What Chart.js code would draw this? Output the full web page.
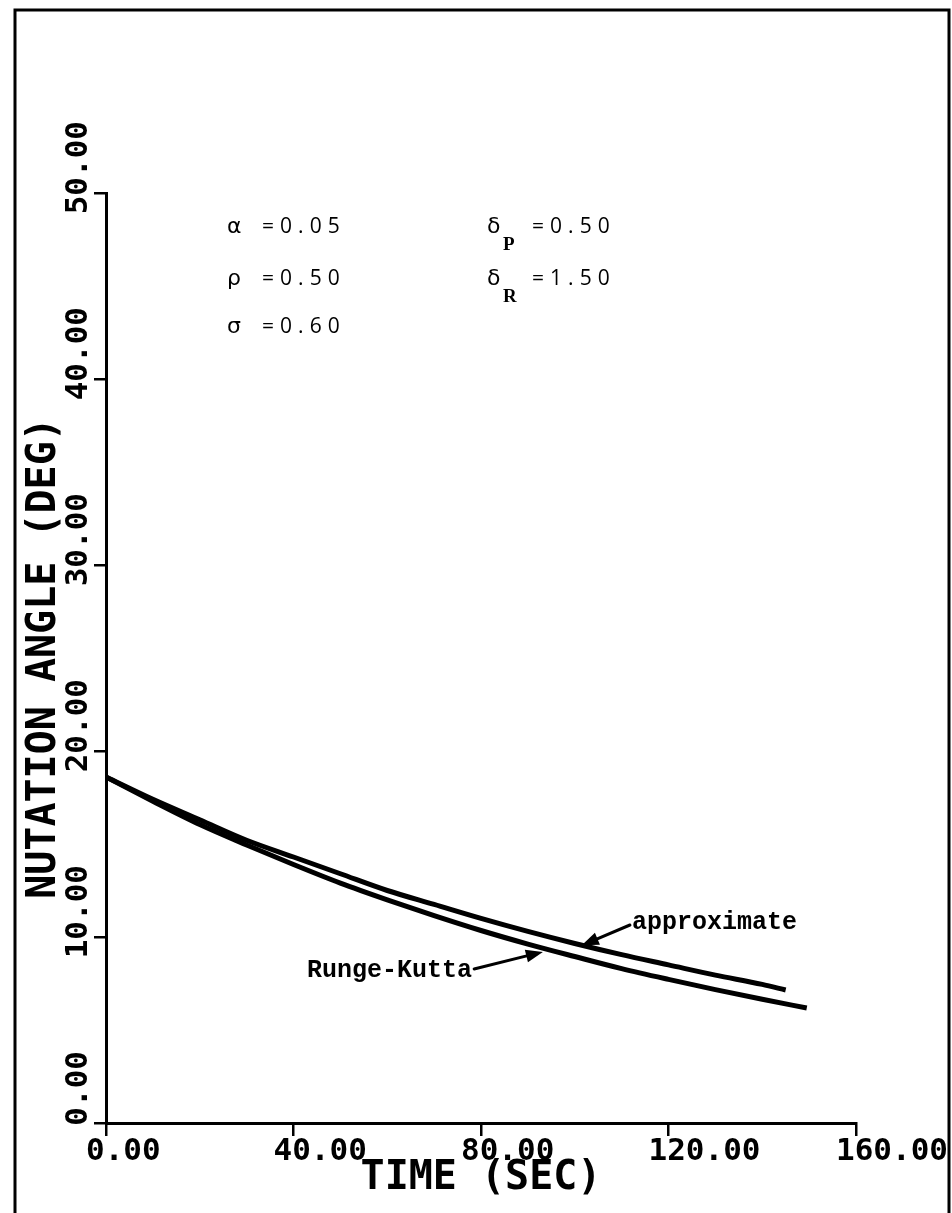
<!DOCTYPE html>
<html>
<head>
<meta charset="utf-8">
<script src="https://cdn.jsdelivr.net/npm/chart.js@4.4.1/dist/chart.umd.min.js"></script>
<style>
  html, body { margin: 0; padding: 0; background: #fff; }
  canvas { display: block; }
</style>
</head>
<body>
<canvas id="chart" width="952" height="1213"></canvas>
<script>
// Nutation angle (deg) versus time (s) for the two solutions
const timeApprox  = [0, 10, 20, 30, 40, 50, 60, 70, 80, 90, 100, 110, 120, 130, 140, 145];
const angleApprox = [18.6, 17.4, 16.3, 15.2, 14.3, 13.4, 12.5, 11.75, 11.0, 10.3, 9.65, 9.05, 8.5, 7.95, 7.45, 7.15];
const timeRK      = [0, 10, 20, 30, 40, 50, 60, 70, 80, 90, 100, 110, 120, 130, 140, 149.5];
const angleRK     = [18.6, 17.3, 16.05, 14.95, 13.9, 12.9, 12.0, 11.15, 10.35, 9.62, 8.95, 8.3, 7.72, 7.17, 6.65, 6.18];

const xTicks = [0, 40, 80, 120, 160];
const yTicks = [0, 10, 20, 30, 40, 50];

// Parameter block
const paramSymbols = ['α', 'ρ', 'σ'];
const paramValues  = ['0.05', '0.50', '0.60'];
const deltaSubs    = ['P', 'R'];
const deltaValues  = ['0.50', '1.50'];

// Placement of the annotations, in data units (time, angle)
const paramPos = { symT: 25.8, eqT: 33.3, rows: [47.85, 45.05, 42.47] };
const deltaPos = { symT: 81.3, subT: 84.7, eqT: 90.9, rows: [47.85, 45.05], subDrop: 0.92 };
const approxNote = { text: 'approximate', t: 112.2, v: 10.43, tipT: 101.5, tipV: 9.55 };
const rkNote     = { text: 'Runge-Kutta', t: 42.9, v: 7.85, tipT: 93.2, tipV: 9.2 };

const toPoints = (ts, vs) => ts.map((t, i) => ({ x: t, y: vs[i] }));

const MONO = '"DejaVu Sans Mono", "Liberation Mono", monospace';
const TYPE = '"Liberation Mono", "DejaVu Sans Mono", monospace';
const THIN = '"Open Sans", "DejaVu Sans", sans-serif';

function drawArrow(ctx, x0, y0, x1, y1) {
  const a = Math.atan2(y1 - y0, x1 - x0);
  const head = 17, half = 6.5;
  const c = Math.cos(a), s = Math.sin(a);
  ctx.lineWidth = 3;
  ctx.lineCap = 'round';
  ctx.beginPath();
  ctx.moveTo(x0, y0);
  ctx.lineTo(x1 - c * head * 0.8, y1 - s * head * 0.8);
  ctx.stroke();
  ctx.beginPath();
  ctx.moveTo(x1, y1);
  ctx.lineTo(x1 - c * head + s * half, y1 - s * head - c * half);
  ctx.lineTo(x1 - c * head - s * half, y1 - s * head + c * half);
  ctx.closePath();
  ctx.fill();
}

const notesPlugin = {
  id: 'notes',
  beforeDraw(chart) {
    const ctx = chart.ctx;
    ctx.save();
    ctx.fillStyle = '#fff';
    ctx.fillRect(0, 0, chart.width, chart.height);
    ctx.restore();
  },
  afterDatasetsDraw(chart) {
    const { ctx, scales: { x, y } } = chart;
    const px = t => x.getPixelForValue(t);
    const py = v => y.getPixelForValue(v);
    ctx.save();
    ctx.fillStyle = '#000';
    ctx.strokeStyle = '#000';
    ctx.textBaseline = 'alphabetic';
    ctx.textAlign = 'left';

    // Parameter values
    paramSymbols.forEach((sym, i) => {
      const by = py(paramPos.rows[i]);
      ctx.font = '22px "DejaVu Sans", sans-serif';
      ctx.letterSpacing = '0px';
      ctx.fillText(sym, px(paramPos.symT), by);
      ctx.font = '21px ' + THIN;
      ctx.letterSpacing = '6px';
      ctx.fillText('=' + paramValues[i], px(paramPos.eqT), by);
    });
    deltaSubs.forEach((sub, i) => {
      const by = py(deltaPos.rows[i]);
      ctx.font = '22px "DejaVu Sans", sans-serif';
      ctx.letterSpacing = '0px';
      ctx.fillText('δ', px(deltaPos.symT), by);
      ctx.font = 'bold 19px "Liberation Serif", serif';
      ctx.fillText(sub, px(deltaPos.subT), py(deltaPos.rows[i] - deltaPos.subDrop));
      ctx.font = '21px ' + THIN;
      ctx.letterSpacing = '6px';
      ctx.fillText('=' + deltaValues[i], px(deltaPos.eqT), by);
    });
    ctx.letterSpacing = '0px';

    // Curve labels with arrows
    ctx.font = 'bold 25px ' + TYPE;
    const ax = px(approxNote.t), ay = py(approxNote.v);
    ctx.fillText(approxNote.text, ax, ay);
    drawArrow(ctx, ax - 2, ay - 4, px(approxNote.tipT), py(approxNote.tipV));

    const rx = px(rkNote.t), ry = py(rkNote.v);
    ctx.fillText(rkNote.text, rx, ry);
    const rw = ctx.measureText(rkNote.text).width;
    drawArrow(ctx, rx + rw + 2, ry - 8, px(rkNote.tipT), py(rkNote.tipV));
    ctx.restore();
  },
  afterDraw(chart) {
    // Page frame
    const ctx = chart.ctx;
    ctx.save();
    ctx.strokeStyle = '#000';
    ctx.lineWidth = 3;
    ctx.beginPath();
    ctx.moveTo(15, chart.height);
    ctx.lineTo(15, 10);
    ctx.lineTo(949, 10);
    ctx.lineTo(949, chart.height);
    ctx.stroke();
    ctx.restore();
  }
};

const axisGrid = {
  display: true,
  drawOnChartArea: false,
  drawTicks: true,
  color: '#000',
  lineWidth: 2.5
};

new Chart(document.getElementById('chart'), {
  type: 'line',
  data: {
    datasets: [
      {
        label: 'approximate',
        data: toPoints(timeApprox, angleApprox),
        borderColor: '#000',
        borderWidth: 5,
        pointRadius: 0,
        cubicInterpolationMode: 'monotone',
        fill: false
      },
      {
        label: 'Runge-Kutta',
        data: toPoints(timeRK, angleRK),
        borderColor: '#000',
        borderWidth: 5,
        pointRadius: 0,
        cubicInterpolationMode: 'monotone',
        fill: false
      }
    ]
  },
  options: {
    responsive: false,
    animation: false,
    events: [],
    layout: { padding: { left: 0, right: 96, top: 193, bottom: 0 } },
    plugins: { legend: { display: false }, tooltip: { enabled: false } },
    scales: {
      x: {
        type: 'linear',
        min: 0,
        max: 160,
        afterBuildTicks: s => { s.ticks = xTicks.map(v => ({ value: v })); },
        afterFit: s => { s.height = 90; s.paddingLeft = 0; s.paddingRight = 0; },
        grid: Object.assign({}, axisGrid, { tickLength: 13 }),
        border: { display: true, color: '#000', width: 3 },
        ticks: {
          align: 'start',
          labelOffset: -20,
          padding: 0,
          minRotation: 0,
          maxRotation: 0,
          color: '#000',
          font: { family: MONO, size: 31, weight: 'bold', lineHeight: 1 },
          callback: v => Number(v).toFixed(2)
        },
        title: {
          display: true,
          text: 'TIME (SEC)',
          color: '#000',
          font: { family: MONO, size: 40, weight: 'bold', lineHeight: 1.2 },
          padding: { top: 0, bottom: 10 }
        }
      },
      y: {
        type: 'linear',
        min: 0,
        max: 50,
        afterBuildTicks: s => { s.ticks = yTicks.map(v => ({ value: v })); },
        afterFit: s => { s.width = 106; s.paddingTop = 0; s.paddingBottom = 0; },
        grid: Object.assign({}, axisGrid, { tickLength: 12 }),
        border: { display: true, color: '#000', width: 3 },
        ticks: {
          minRotation: 90,
          maxRotation: 90,
          padding: 15,
          labelOffset: -72,
          color: '#000',
          font: { family: MONO, size: 31, weight: 'bold', lineHeight: 1 },
          callback: v => Number(v).toFixed(2)
        },
        title: {
          display: true,
          text: 'NUTATION ANGLE (DEG)',
          color: '#000',
          font: { family: MONO, size: 40, weight: 'bold', lineHeight: 1.2 },
          padding: { top: 21, bottom: 0 }
        }
      }
    }
  },
  plugins: [notesPlugin]
});
</script>
</body>
</html>
